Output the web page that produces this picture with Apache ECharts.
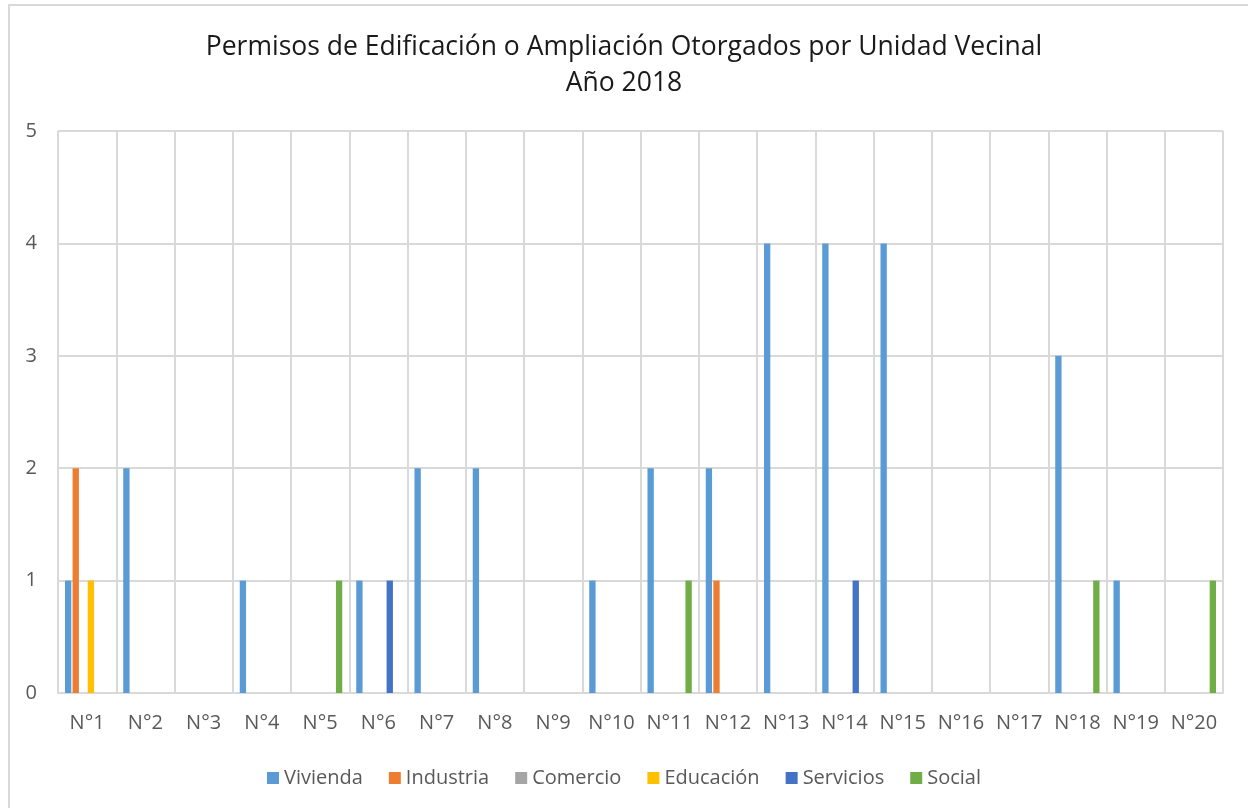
<!DOCTYPE html>
<html>
<head>
<meta charset="utf-8">
<script src="https://cdn.jsdelivr.net/npm/echarts@6/dist/echarts.min.js"></script>
<style>
html,body{margin:0;padding:0;background:#fff;}
#c{width:1248px;height:808px;}
</style>
</head>
<body>
<div id="c"></div>
<script>
const categories = ['N°1','N°2','N°3','N°4','N°5','N°6','N°7','N°8','N°9','N°10','N°11','N°12','N°13','N°14','N°15','N°16','N°17','N°18','N°19','N°20'];
const vivienda  = [1,2,0,1,0,1,2,2,0,1,2,2,4,4,4,0,0,3,1,0];
const industria = [2,0,0,0,0,0,0,0,0,0,0,1,0,0,0,0,0,0,0,0];
const comercio  = [0,0,0,0,0,0,0,0,0,0,0,0,0,0,0,0,0,0,0,0];
const educacion = [1,0,0,0,0,0,0,0,0,0,0,0,0,0,0,0,0,0,0,0];
const servicios = [0,0,0,0,0,1,0,0,0,0,0,0,0,1,0,0,0,0,0,0];
const social    = [0,0,0,0,1,0,0,0,0,0,1,0,0,0,0,0,0,1,0,1];
const yTicks = [0,1,2,3,4,5];

const FONT = 'Open Sans';
const chart = echarts.init(document.getElementById('c'));
const mk = (name, data, color) => ({
  name, type:'bar', data, itemStyle:{color},
  barCategoryGap:'24%', barGap:'20%'
});
chart.setOption({
  animation:false,
  backgroundColor:'#fff',
  title:{
    text:'Permisos de Edificación o Ampliación Otorgados por Unidad Vecinal\nAño 2018',
    left:'center', top:24,
    textStyle:{fontFamily:FONT, fontSize:26.5, fontWeight:'normal', color:'#1a1a1a', lineHeight:36}
  },
  legend:{
    top:763, left:'center', itemWidth:12, itemHeight:12, itemGap:26, icon:'rect',
    textStyle:{fontFamily:FONT, fontSize:20, color:'#595959'},
    data:['Vivienda','Industria','Comercio','Educación','Servicios','Social']
  },
  grid:{left:58, right:25, top:131, bottom:115},
  xAxis:{
    type:'category', data:categories,
    axisLine:{lineStyle:{color:'#d9d9d9', width:2}},
    axisTick:{show:false},
    splitLine:{show:true, lineStyle:{color:'#d9d9d9', width:2}},
    axisLabel:{fontFamily:FONT, fontSize:20, color:'#595959', margin:20, interval:0}
  },
  yAxis:{
    type:'value', min:yTicks[0], max:yTicks[yTicks.length-1], interval:1,
    axisLine:{show:false}, axisTick:{show:false},
    splitLine:{lineStyle:{color:'#d9d9d9', width:2}},
    axisLabel:{fontFamily:FONT, fontSize:20, color:'#595959', margin:21}
  },
  graphic:[{type:'rect', shape:{x:9,y:5,width:1260,height:820}, style:{fill:'none', stroke:'#d9d9d9', lineWidth:2}, silent:true}],
  series:[
    mk('Vivienda', vivienda, '#5B9BD5'),
    mk('Industria', industria, '#ED7D31'),
    mk('Comercio', comercio, '#A5A5A5'),
    mk('Educación', educacion, '#FFC000'),
    mk('Servicios', servicios, '#4472C4'),
    mk('Social', social, '#70AD47')
  ]
});
</script>
</body>
</html>
